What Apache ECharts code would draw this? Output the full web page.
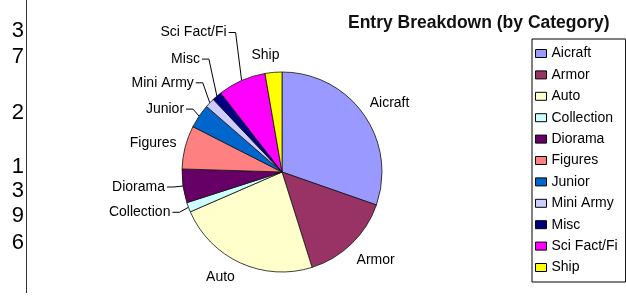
<!DOCTYPE html>
<html><head><meta charset="utf-8">
<script src="https://cdn.jsdelivr.net/npm/echarts@6/dist/echarts.min.js"></script>
<style>html,body{margin:0;padding:0;background:#fff}#c{width:626px;height:296px}</style>
</head><body><div id="c"></div>
<script>
var categories = ['Aicraft','Armor','Auto','Collection','Diorama','Figures','Junior','Mini Army','Misc','Sci Fact/Fi','Ship'];
var counts = [39, 19, 30, 2, 7, 9, 5, 2, 2, 10, 3.5];
var colors = ['#9999FF','#993366','#FFFFCC','#CCFFFF','#660066','#FF8080','#0066CC','#CCCCFF','#000080','#FF00FF','#FFFF00'];
var sideDigits = ['3','7','2','1','3','9','6'];

// label layout (offset from the slice's outer mid-point; leader = Excel style connector)
var labelShift = [[26,-11],[24,16],[-20,14],[-18,5],[-18,1],[-32,-4],[-15,-7],[-16,-20],[-17,-37],[-15,-48],[-8,-17]];
var hasLeader = [false,false,false,true,true,false,true,true,true,true,false];
var sideDigitY = [31, 57, 113, 167, 191, 216, 243];

var chart = echarts.init(document.getElementById('c'));
var graphics = sideDigits.map(function(d,i){
  return {type:'text', x:24, y:sideDigitY[i], style:{text:d, fontSize:22, fontFamily:'Liberation Sans, Arial', fill:'#000', textAlign:'right', textVerticalAlign:'middle'}};
});
graphics.push({type:'line', shape:{x1:26.5,y1:0,x2:26.5,y2:293}, style:{stroke:'#333', lineWidth:1}});
chart.setOption({
  animation:false,
  color: colors,
  title:{text:'Entry Breakdown (by Category)', left:343, top:9, textStyle:{fontSize:17.5, fontWeight:'bold', fontFamily:'Liberation Sans, Arial', color:'#111'}},
  legend:{orient:'vertical', left:532, top:39, data:categories,
    itemWidth:11, itemHeight:8, itemGap:7.4, icon:'rect',
    itemStyle:{borderColor:'#000', borderWidth:1},
    borderColor:'#000', borderWidth:1, padding:[7.5,8,7.5,3],
    textStyle:{fontSize:14, fontFamily:'Liberation Sans, Arial', color:'#000'}},
  graphic: graphics,
  series:[{type:'pie', center:[282,172], radius:100, startAngle:90, clockwise:true,
    itemStyle:{borderColor:'#111', borderWidth:0.8},
    label:{show:true, position:'outside', fontSize:14, fontFamily:'Liberation Sans, Arial', color:'#000'},
    labelLine:{show:true, length:6, length2:8, lineStyle:{color:'#000', width:1}},
    labelLayout:function(p){
      var i = p.dataIndex, s = labelShift[i];
      var a = p.labelLinePoints[0];
      var x = a[0] + s[0], y = a[1] + s[1];
      if (hasLeader[i]) {
        return {x:x, y:y, align:'right', verticalAlign:'middle',
          labelLinePoints:[[x+2, y], [x+9, y], [a[0], a[1]]]};
      }
      return {x:x, y:y, align:'center', verticalAlign:'middle', labelLinePoints:[[a[0],a[1]],[a[0],a[1]],[a[0],a[1]]]};
    },
    data: categories.map(function(c,i){return {name:c, value:counts[i]};})
  }]
});
</script></body></html>
